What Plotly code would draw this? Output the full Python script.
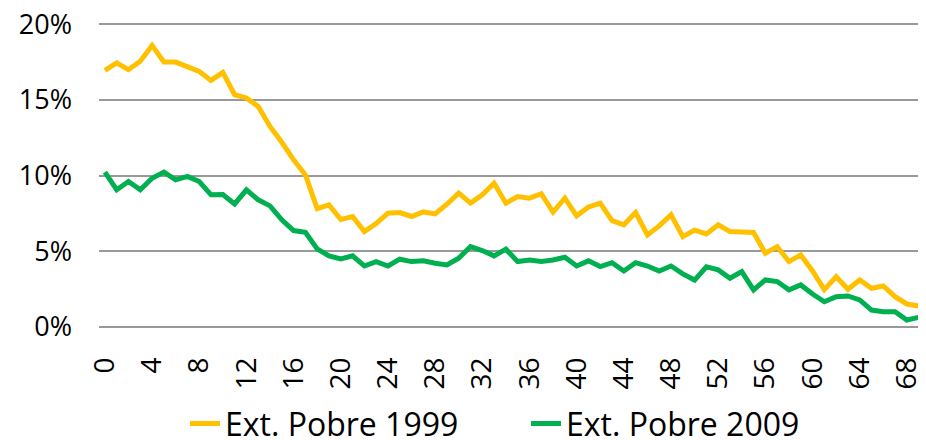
import plotly.graph_objects as go

ages = list(range(0, 71))

ext_pobre_1999 = [
    16.95, 17.44, 17.00, 17.55, 18.60, 17.50, 17.50, 17.17, 16.88, 16.29,
    16.82, 15.34, 15.13, 14.57, 13.25, 12.20, 11.04, 10.05, 7.82, 8.07,
    7.10, 7.30, 6.30, 6.83, 7.52, 7.56, 7.30, 7.60, 7.47, 8.11,
    8.84, 8.18, 8.73, 9.50, 8.18, 8.62, 8.51, 8.80, 7.59, 8.51,
    7.34, 7.92, 8.18, 7.03, 6.75, 7.56, 6.08, 6.68, 7.41, 5.97,
    6.40, 6.15, 6.75, 6.30, 6.30, 6.24, 4.87, 5.31, 4.32, 4.76,
    3.70, 2.47, 3.33, 2.49, 3.11, 2.56, 2.71, 2.00, 1.52, 1.39,
    0.90,
]

ext_pobre_2009 = [
    10.23, 9.06, 9.61, 9.06, 9.83, 10.23, 9.72, 9.95, 9.61, 8.73,
    8.75, 8.13, 9.06, 8.40, 8.00, 7.08, 6.37, 6.26, 5.16, 4.70,
    4.49, 4.70, 4.03, 4.32, 4.03, 4.48, 4.32, 4.37, 4.21, 4.10,
    4.55, 5.31, 5.05, 4.70, 5.14, 4.32, 4.43, 4.32, 4.43, 4.61,
    4.03, 4.37, 3.99, 4.25, 3.70, 4.25, 4.03, 3.70, 4.03, 3.51,
    3.10, 3.97, 3.77, 3.22, 3.66, 2.45, 3.11, 3.00, 2.45, 2.78,
    2.18, 1.67, 2.00, 2.05, 1.79, 1.12, 1.01, 1.01, 0.46, 0.64,
    0.45,
]

series_names = ["Ext. Pobre 1999", "Ext. Pobre 2009"]
series_colors = ["#FFC000", "#00B050"]

y_tick_values = [0, 5, 10, 15, 20]
y_tick_labels = ["0%", "5%", "10%", "15%", "20%"]
x_tick_values = list(range(0, 69, 4))
x_tick_labels = [str(v) for v in x_tick_values]

FONT = "Open Sans, Lato, sans-serif"

fig = go.Figure()
for name, vals, col in zip(series_names, [ext_pobre_1999, ext_pobre_2009], series_colors):
    fig.add_trace(go.Scatter(
        x=ages, y=vals, mode="lines", name=name,
        line=dict(color=col, width=5),
    ))

# the page body has an 8px margin, so the figure is 8px smaller than the window
fig.update_layout(
    width=918, height=432,
    margin=dict(l=91, r=0, t=15, b=113, autoexpand=False),
    paper_bgcolor="white", plot_bgcolor="white",
    font=dict(family=FONT, color="#000000"),
    showlegend=True,
    legend=dict(
        orientation="h", x=0.104, xanchor="left", y=-0.318, yanchor="middle",
        font=dict(family=FONT, size=32, color="#000000"),
        itemwidth=30, entrywidth=296, entrywidthmode="pixels",
        bgcolor="rgba(0,0,0,0)",
    ),
)

fig.update_xaxes(
    range=[-0.5, 69.62], tickmode="array", tickvals=x_tick_values, ticktext=x_tick_labels,
    tickangle=-90, tickfont=dict(family=FONT, size=28, color="#000000"),
    showgrid=False, zeroline=False, showline=False, ticks="",
    ticklabelstandoff=24, automargin=False, ticklabeloverflow="allow",
)
fig.update_yaxes(
    range=[0, 20.08], tickmode="array", tickvals=y_tick_values, ticktext=y_tick_labels,
    tickfont=dict(family=FONT, size=27, color="#000000"),
    showgrid=True, gridcolor="#999999", gridwidth=2,
    zeroline=True, zerolinecolor="#999999", zerolinewidth=2,
    showline=False, ticks="", ticklabelstandoff=26, automargin=False,
    ticklabeloverflow="allow",
)

fig.write_html("out.html")
